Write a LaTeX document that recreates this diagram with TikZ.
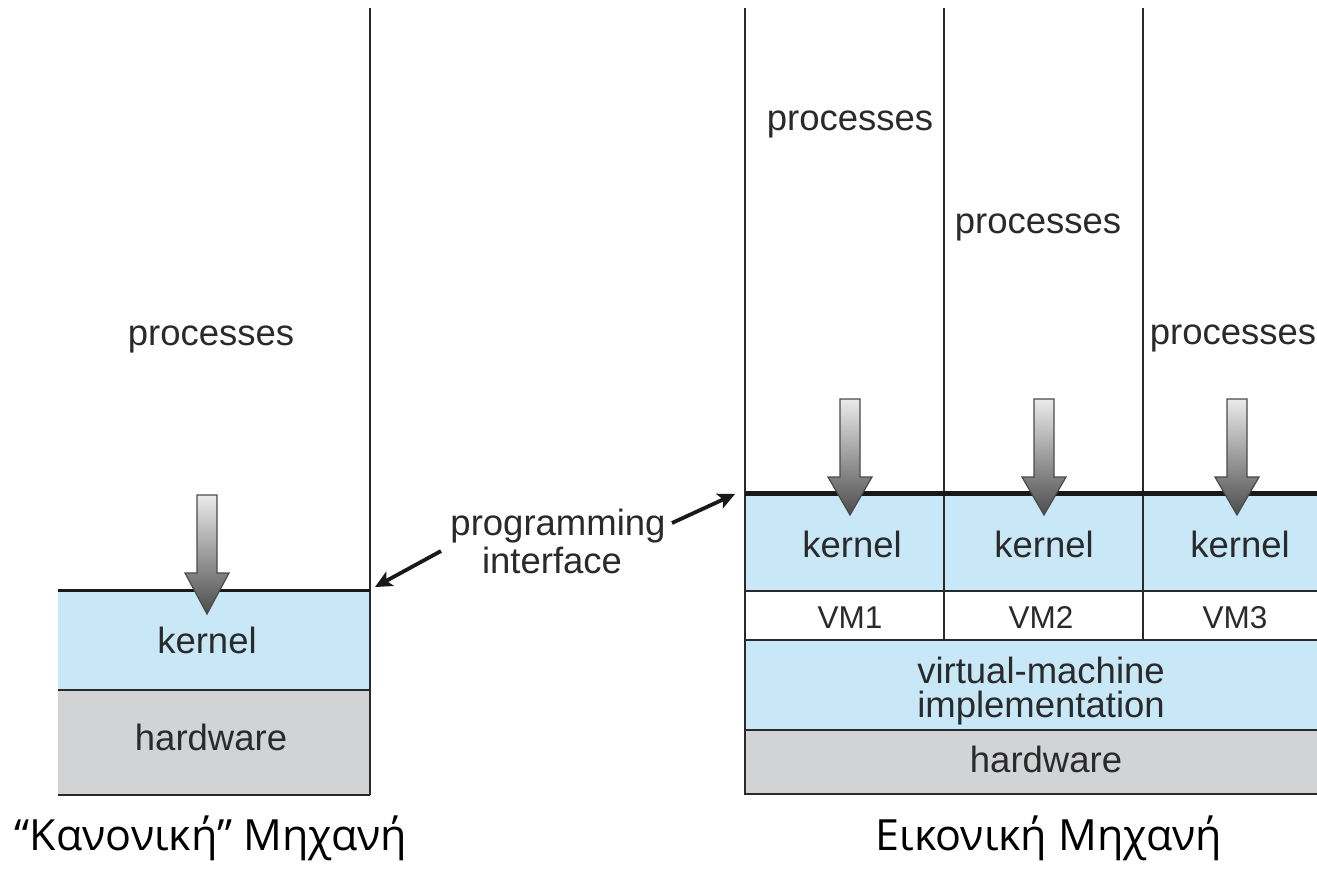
\documentclass[tikz,border=0pt]{standalone}
\usepackage{fontspec}
\setmainfont{Liberation Sans}
\newfontfamily\capfont{Open Sans}
\usetikzlibrary{arrows.meta}
\definecolor{kernelblue}{HTML}{C8E8F8}
\definecolor{hwgray}{HTML}{D2D3D5}
\definecolor{edge}{HTML}{2A2A2A}
\tikzset{
  lbl/.style={anchor=base, inner sep=0pt, text=edge, font=\fontsize{36.5}{40}\selectfont},
  vmlbl/.style={lbl, font=\fontsize{31.5}{36}\selectfont},
  caption/.style={anchor=base, inner sep=0pt, text=black, font=\capfont\fontsize{43}{50}\selectfont},
  rule/.style={draw=edge, line width=1.8pt},
  kernelrule/.style={draw=black!90, line width=#1},
  piarrow/.style={draw=black!90, line width=3.8pt, -{Stealth[length=17pt,width=16pt,inset=4pt]}},
  callshade/.style={top color=black!8, bottom color=black!70, draw=edge!85, line width=1.2pt}
}
% downward system-call arrow: centre x, shaft top, head start, tip
\newcommand\callarrow[4]{%
  \shadedraw[callshade] ({#1-10},#2) -- ({#1+10},#2) -- ({#1+10},#3) -- ({#1+22},#3)
    -- (#1,#4) -- ({#1-22},#3) -- ({#1-10},#3) -- cycle;}
\begin{document}
\begin{tikzpicture}[x=1pt,y=-1pt]
\path[use as bounding box, fill=white] (0,0) rectangle (1317,868);

% ---------- ordinary machine ----------
\fill[kernelblue] (58,590) rectangle (370,690);
\fill[hwgray] (58,690) rectangle (370,795);
\draw[rule] (58,690) -- (370,690);
\draw[rule] (58,795) -- (370,795);
\draw[rule] (370,8) -- (370,795);
\draw[kernelrule=3pt] (58,590) -- (370,590);
\callarrow{207}{495}{573}{614}

\node[lbl] (lproc) at (211,345) {processes};
\node[lbl] (lkern) at (207,653) {kernel};
\node[lbl] (lhw) at (211,750) {hardware};

% ---------- virtual machines ----------
\fill[kernelblue] (745,493) rectangle (1317,591);
\fill[white] (745,591) rectangle (1317,640);
\fill[kernelblue] (745,640) rectangle (1317,730);
\fill[hwgray] (745,730) rectangle (1317,794);
\draw[rule] (745,8) -- (745,795);
\draw[rule] (944,8) -- (944,640);
\draw[rule] (1143,8) -- (1143,640);
\draw[rule] (745,591) -- (1317,591);
\draw[rule] (745,640) -- (1317,640);
\draw[rule] (745,730) -- (1317,730);
\draw[rule] (745,794) -- (1317,794);
\draw[kernelrule=5pt] (745,493) -- (1317,493);
\callarrow{850}{399}{477}{515}
\callarrow{1044}{399}{477}{515}
\callarrow{1237}{399}{477}{515}

\node[lbl] (proc1) at (850,130) {processes};
\node[lbl] (proc2) at (1038,233) {processes};
\node[lbl] (proc3) at (1233,344) {processes};
\node[lbl] (kern1) at (852,557) {kernel};
\node[lbl] (kern2) at (1044,557) {kernel};
\node[lbl] (kern3) at (1240,557) {kernel};
\node[vmlbl] (vm1) at (850,628) {VM1};
\node[vmlbl] (vm2) at (1041,628) {VM2};
\node[vmlbl] (vm3) at (1235,628) {VM3};
\node[lbl] (vmi1) at (1041,683) {virtual-machine};
\node[lbl] (vmi2) at (1041,717) {implementation};
\node[lbl] (rhw) at (1046,772) {hardware};

% ---------- programming interface ----------
\node[lbl] (pi1) at (558,535) {programming};
\node[lbl] (pi2) at (552,573) {interface};
\coordinate (piL) at (441,551);
\coordinate (piLtip) at (375,587);
\coordinate (piR) at (672,523);
\coordinate (piRtip) at (735,494);
\draw[piarrow] (piL) -- (piLtip);
\draw[piarrow] (piR) -- (piRtip);

% ---------- captions ----------
\node[caption] (capL) at (211,850) {“Κανονική” Μηχανή};
\node[caption] (capR) at (1049,850) {Εικονική Μηχανή};
\end{tikzpicture}
\end{document}
